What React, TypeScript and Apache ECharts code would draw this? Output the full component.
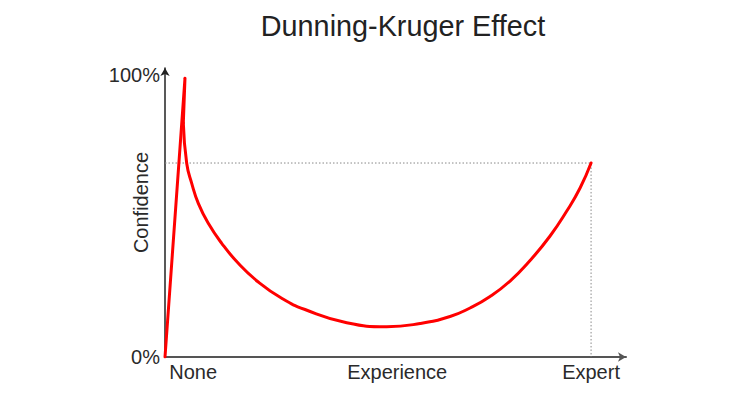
import React, { useEffect, useRef } from "react";
import * as echarts from "echarts";

const titleText = "Dunning-Kruger Effect";
const yAxisName = "Confidence";
const xTickValues = [6.6, 54.5, 100];
const xTickLabels = ["None", "Experience", "Expert"];
const yTickValues = [0, 100];
const yTickLabels = ["0%", "100%"];

// climb to the peak (straight segment)
const climbX = [0, 4.69, 4.3];
const climbY = [0, 98.9, 83.0];

// valley and slope of enlightenment (smooth segment)
const curveX = [4.3, 5.09, 6.27, 7.82, 10.16, 13.31, 17.21, 21.9, 27.39, 32.86, 42.65, 52.04, 59.86, 66.9, 71.6, 76.29, 80.99, 85.68, 90.38, 94.3, 97.42, 100];
const curveY = [83.0, 68.69, 61.6, 54.5, 47.41, 40.32, 33.23, 26.6, 20.82, 16.84, 12.16, 10.74, 11.88, 14.36, 17.38, 21.45, 26.95, 34.22, 42.91, 51.77, 59.93, 68.8];

// guide lines to expert level
const guideX = [0, 100, 100];
const guideY = [68.8, 68.8, 0];

const FONT = "Liberation Sans, Helvetica, Arial, sans-serif";

export default function App() {
  const ref = useRef<HTMLDivElement>(null);
  useEffect(() => {
    if (!ref.current) return;
    const chart = echarts.init(ref.current, null, { renderer: "svg" });
    const zip = (xs: number[], ys: number[]) => xs.map((x, i) => [x, ys[i]]);
    chart.setOption({
      animation: false,
      backgroundColor: "#ffffff",
      title: {
        text: titleText,
        left: 398,
        top: 6,
        textAlign: "center",
        textStyle: { fontFamily: FONT, fontSize: 28.8, fontWeight: "normal", color: "#222" },
      },
      grid: { left: 165, right: 124, top: 68, bottom: 40, containLabel: false },
      xAxis: {
        type: "value",
        min: 0,
        max: 108.2,
        splitLine: { show: false },
        axisTick: { show: false },
        axisLine: {
          lineStyle: { color: "#555", width: 2 },
          symbol: ["none", "arrow"],
          symbolSize: [7, 8],
        },
        axisLabel: {
          customValues: xTickValues,
          formatter: (v: number) => {
            const i = xTickValues.findIndex((t) => Math.abs(t - v) < 1e-6);
            return i >= 0 ? xTickLabels[i] : "";
          },
          fontFamily: FONT,
          fontSize: 20,
          color: "#2a2a2a",
          margin: 5,
        },
      },
      yAxis: {
        type: "value",
        min: 0,
        max: 102.5,
        name: yAxisName,
        nameLocation: "middle",
        nameGap: 14,
        nameRotate: 90,
        nameMoveOverlap: false,
        nameTextStyle: { fontFamily: FONT, fontSize: 20, color: "#2a2a2a", padding: [0, 0, 0, 20] },
        splitLine: { show: false },
        axisTick: { show: false },
        axisLine: {
          lineStyle: { color: "#222", width: 1.5 },
          symbol: ["none", "arrow"],
          symbolSize: [7, 8],
        },
        axisLabel: {
          customValues: yTickValues,
          formatter: (v: number) => {
            const i = yTickValues.findIndex((t) => Math.abs(t - v) < 1e-6);
            return i >= 0 ? yTickLabels[i] : "";
          },
          fontFamily: FONT,
          fontSize: 20,
          color: "#2a2a2a",
          margin: 5,
        },
      },
      series: [
        {
          type: "line",
          data: zip(guideX, guideY),
          showSymbol: false,
          lineStyle: { color: "#888", width: 1, type: [1.5, 2] },
          z: 1,
        },
        {
          type: "line",
          data: zip(climbX, climbY),
          showSymbol: false,
          lineStyle: { color: "#ff0000", width: 3, cap: "round", join: "round" },
          z: 3,
        },
        {
          type: "line",
          data: zip(curveX, curveY),
          smooth: 0.5,
          showSymbol: false,
          lineStyle: { color: "#ff0000", width: 3, cap: "round" },
          z: 3,
        },
      ],
    });
    return () => chart.dispose();
  }, []);
  return (
    <div
      ref={ref}
      style={{ position: "fixed", left: 0, top: 0, width: 750, height: 397, background: "#fff" }}
    />
  );
}
